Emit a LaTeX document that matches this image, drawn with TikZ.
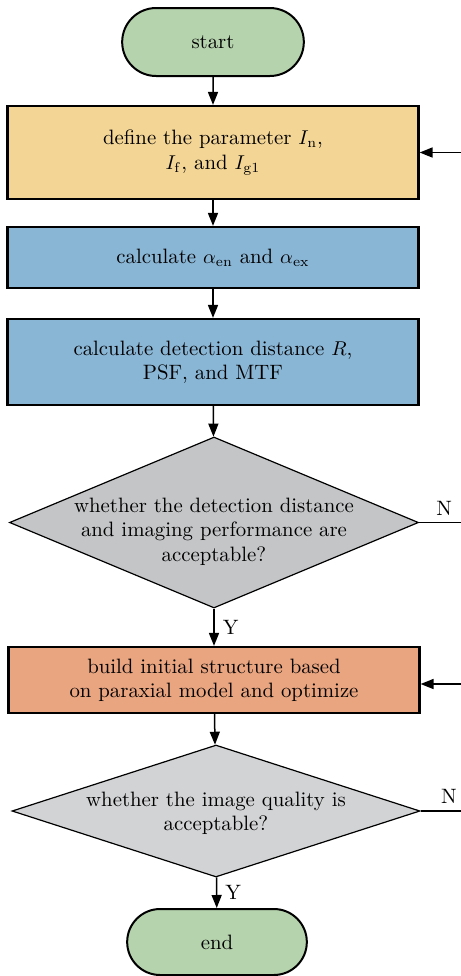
\documentclass[tikz,border=0pt]{standalone}
\usepackage{tikz}
\usetikzlibrary{shapes.geometric, shapes.misc, arrows.meta, positioning}
\definecolor{Termcol}{RGB}{181, 211, 173}
\definecolor{Paramcol}{RGB}{243, 213, 150}
\definecolor{Calccol}{RGB}{138, 182, 214}
\definecolor{Buildcol}{RGB}{233, 164, 128}
\definecolor{Judgecol}{RGB}{196, 197, 199}
\definecolor{Judgelight}{RGB}{210, 211, 213}

\begin{document}
\begin{tikzpicture}[
    x=0.5pt, y=-0.5pt,
    every node/.style={align=center, font=\fontsize{10.4}{12.2}\selectfont},
    termbox/.style={
        rounded rectangle, draw=black, line width=1pt,
        fill=Termcol, minimum width=97.5pt, minimum height=34pt
    },
    procbox/.style={
        rectangle, draw=black, line width=1.1pt,
        minimum width=205.5pt, inner sep=0pt
    },
    judgebox/.style={
        diamond, draw=black, line width=0.6pt,
        inner sep=0pt, fill=Judgecol
    },
    arrowstyle/.style={
        -{Triangle[length=6.5pt, width=5pt]},
        line width=0.75pt, color=black
    },
    linestyle/.style={line width=0.75pt, color=black}
]
    \useasboundingbox (0,0) rectangle (461,976);

    % ------------------- BLOCCHI -------------------

    \node[termbox] (start) at (213,42) {start};

    \node[procbox, fill=Paramcol, minimum height=46.5pt] (param) at (213,152.5)
        {define the parameter $I_{\mathrm{n}}$,\\$I_{\mathrm{f}}$, and $I_{\mathrm{g1}}$};

    \node[procbox, fill=Calccol, minimum height=30.5pt] (angle) at (213,257.5)
        {calculate $\alpha_{\mathrm{en}}$ and $\alpha_{\mathrm{ex}}$};

    \node[procbox, fill=Calccol, minimum height=43pt] (dist) at (213,362)
        {calculate detection distance $R$,\\PSF, and MTF};

    \node[judgebox, minimum width=204.5pt, minimum height=85.5pt,
          label={[align=center, yshift=-4.5pt]center:whether the detection distance\\and imaging performance are\\acceptable?}]
        (check1) at (214,522.5) {};

    \node[procbox, fill=Buildcol, minimum height=33pt] (build) at (214,680)
        {build initial structure based\\on paraxial model and optimize};

    \node[judgebox, fill=Judgelight, minimum width=204pt, minimum height=66pt,
          label={[align=center, yshift=-1pt]center:whether the image quality is\\acceptable?}]
        (check2) at (216,811) {};

    \node[termbox, minimum width=96.5pt, minimum height=33pt] (stop) at (217,942) {end};

    % ------------------- COLLEGAMENTI -------------------

    \draw[arrowstyle] (start) -- (param);
    \draw[arrowstyle] (param) -- (angle);
    \draw[arrowstyle] (angle) -- (dist);
    \draw[arrowstyle] (dist) -- (check1);
    \draw[arrowstyle] (check1) -- node[right, inner sep=4pt] {Y} (build);
    \draw[arrowstyle] (build) -- (check2);
    \draw[arrowstyle] (check2) -- node[right, inner sep=4pt] {Y} (stop);

    % --- rami N verso il bordo destro ---
    \coordinate (back1) at (461,522.5);
    \coordinate (back2) at (461,811);
    \coordinate (in1) at (461,152.5);
    \coordinate (in2) at (461,684);

    \draw[linestyle] (check1.east) -- node[above, pos=0.6] {N} (back1);
    \draw[linestyle] (check2.east) -- node[above, pos=0.7] {N} (back2);

    \draw[arrowstyle] (in1) -- (param.east |- in1);
    \draw[arrowstyle] (in2) -- (build.east |- in2);
\end{tikzpicture}
\end{document}
